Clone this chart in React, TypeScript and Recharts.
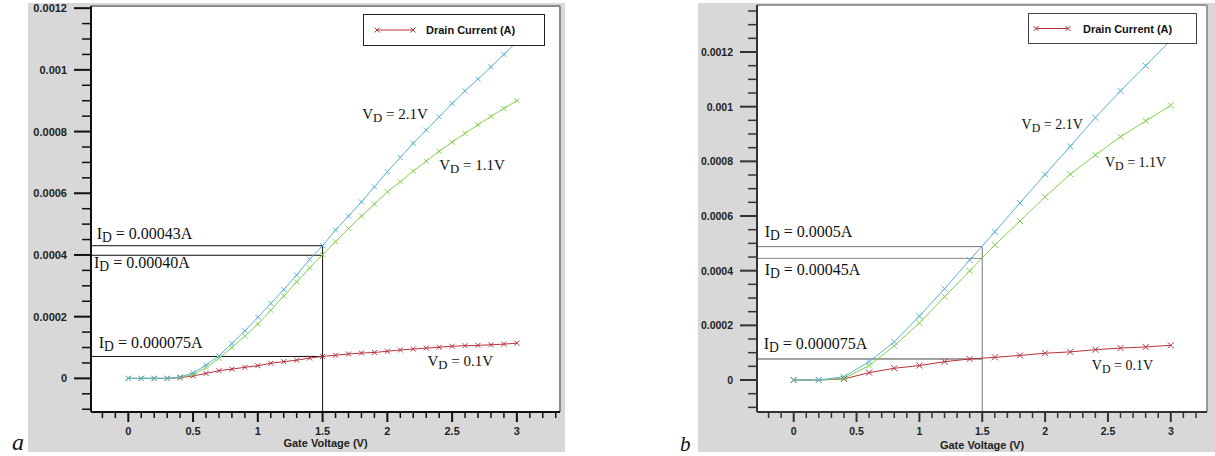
import React from 'react';
import { LineChart, Line, XAxis, YAxis, ReferenceLine, ReferenceDot, CartesianGrid, Legend } from 'recharts';

// ---------- DATA (chart a) ----------
const gateA = [0, 0.1, 0.2, 0.3, 0.4, 0.5, 0.6, 0.7, 0.8, 0.9, 1.0, 1.1, 1.2, 1.3, 1.4, 1.5, 1.6, 1.7, 1.8, 1.9, 2.0, 2.1, 2.2, 2.3, 2.4, 2.5, 2.6, 2.7, 2.8, 2.9, 3.0];
const vd21A = [0, 0, 0, 0, 0.000005, 0.000018, 0.000043, 0.000073, 0.000113, 0.000154, 0.000198, 0.000243, 0.000288, 0.000335, 0.000386, 0.00043, 0.000481, 0.000526, 0.000572, 0.000621, 0.00067, 0.000716, 0.000762, 0.000805, 0.000848, 0.000891, 0.000932, 0.00097, 0.00101, 0.00105, 0.001091];
const vd11A = [0, 0, 0, 0, 0.000003, 0.000012, 0.000035, 0.000065, 0.0001, 0.000137, 0.000176, 0.000221, 0.000267, 0.000313, 0.000358, 0.000401, 0.000443, 0.000486, 0.000526, 0.000565, 0.000605, 0.000637, 0.000672, 0.000704, 0.000736, 0.000766, 0.000794, 0.000822, 0.000849, 0.000875, 0.0009];
const vd01A = [0, 0, 0, 0, 0.000002, 0.000008, 0.000016, 0.000025, 0.00003, 0.000036, 0.000041, 0.000049, 0.000054, 0.000059, 0.000066, 0.000071, 0.000075, 0.000079, 0.000082, 0.000084, 0.000088, 0.000092, 0.000095, 0.000098, 0.000101, 0.000104, 0.000106, 0.000107, 0.000109, 0.000111, 0.000114];
const refLevelsA = [0.00043, 0.000399, 0.000071];
const refGateA = 1.5;

// ---------- DATA (chart b) ----------
const gateB = [0, 0.2, 0.4, 0.6, 0.8, 1.0, 1.2, 1.4, 1.6, 1.8, 2.0, 2.2, 2.4, 2.6, 2.8, 3.0];
const vd21B = [0, 0, 0.000012, 0.000067, 0.00014, 0.000234, 0.000334, 0.000439, 0.000542, 0.000648, 0.000752, 0.000855, 0.00096, 0.001058, 0.00115, 0.001243];
const vd11B = [0, 0, 0.000006, 0.000053, 0.000125, 0.000209, 0.000305, 0.000399, 0.000494, 0.000582, 0.00067, 0.000753, 0.000823, 0.00089, 0.000948, 0.001005];
const vd01B = [0, 0, 0.000004, 0.000027, 0.000043, 0.000053, 0.000067, 0.000077, 0.000083, 0.00009, 0.000098, 0.000103, 0.000111, 0.000117, 0.000121, 0.000127];
const refLevelsB = [0.000488, 0.000445, 0.000077];
const refGateB = 1.5;

// ---------- TICKS ----------
const yMajorVals = [0, 0.0002, 0.0004, 0.0006, 0.0008, 0.001, 0.0012];
const yMajorLabels = ['0', '0.0002', '0.0004', '0.0006', '0.0008', '0.001', '0.0012'];
const yTicksA = [-0.0001, -0.00005, 0, 0.00005, 0.0001, 0.00015, 0.0002, 0.00025, 0.0003, 0.00035, 0.0004, 0.00045, 0.0005, 0.00055, 0.0006, 0.00065, 0.0007, 0.00075, 0.0008, 0.00085, 0.0009, 0.00095, 0.001, 0.00105, 0.0011, 0.00115, 0.0012];
const yTicksB = [-0.0001, -0.00005, 0, 0.00005, 0.0001, 0.00015, 0.0002, 0.00025, 0.0003, 0.00035, 0.0004, 0.00045, 0.0005, 0.00055, 0.0006, 0.00065, 0.0007, 0.00075, 0.0008, 0.00085, 0.0009, 0.00095, 0.001, 0.00105, 0.0011, 0.00115, 0.0012, 0.00125, 0.0013, 0.00135];
const xMajorVals = [0, 0.5, 1, 1.5, 2, 2.5, 3];
const xMajorLabels = ['0', '0.5', '1', '1.5', '2', '2.5', '3'];
const xTicksA = [-0.2, -0.1, 0, 0.1, 0.2, 0.3, 0.4, 0.5, 0.6, 0.7, 0.8, 0.9, 1, 1.1, 1.2, 1.3, 1.4, 1.5, 1.6, 1.7, 1.8, 1.9, 2, 2.1, 2.2, 2.3, 2.4, 2.5, 2.6, 2.7, 2.8, 2.9, 3, 3.1, 3.2, 3.3];
const xTicksB = [-0.2, -0.1, 0, 0.1, 0.2, 0.3, 0.4, 0.5, 0.6, 0.7, 0.8, 0.9, 1, 1.1, 1.2, 1.3, 1.4, 1.5, 1.6, 1.7, 1.8, 1.9, 2, 2.1, 2.2, 2.3, 2.4, 2.5, 2.6, 2.7, 2.8, 2.9, 3, 3.1, 3.2];

const legendLabel = 'Drain Current (A)';
const xAxisTitle = 'Gate Voltage (V)';

// annotation texts
const annTextA = [
  { main: 'I', sub: 'D', rest: ' = 0.00043A', x: -0.244, y: 0.000451 },
  { main: 'I', sub: 'D', rest: ' = 0.00040A', x: -0.265, y: 0.000357 },
  { main: 'I', sub: 'D', rest: ' = 0.000075A', x: -0.228, y: 0.0000972 },
  { main: 'V', sub: 'D', rest: ' = 2.1V', x: 1.806, y: 0.00084 },
  { main: 'V', sub: 'D', rest: ' = 1.1V', x: 2.4, y: 0.000675 },
  { main: 'V', sub: 'D', rest: ' = 0.1V', x: 2.31, y: 0.0000408 },
];
const annTextB = [
  { main: 'I', sub: 'D', rest: ' = 0.0005A', x: -0.231, y: 0.000524 },
  { main: 'I', sub: 'D', rest: ' = 0.00045A', x: -0.231, y: 0.000384 },
  { main: 'I', sub: 'D', rest: ' = 0.000075A', x: -0.239, y: 0.000113 },
  { main: 'V', sub: 'D', rest: ' = 2.1V', x: 1.813, y: 0.000917 },
  { main: 'V', sub: 'D', rest: ' = 1.1V', x: 2.476, y: 0.00078 },
  { main: 'V', sub: 'D', rest: ' = 0.1V', x: 2.372, y: 0.0000366 },
];

// ---------- STYLE ----------
const SANS = "'Liberation Sans', Arial, Helvetica, sans-serif";
const SERIF = "'Liberation Serif', 'Times New Roman', Times, serif";
const C21 = '#58b2d8';
const C11 = '#82d24e';
const C01 = '#b8323c';
const PANEL = '#d8d8d8';

const near = (a: number, b: number) => Math.abs(a - b) < 1e-9;

const Cross = ({ cx, cy, color, s }: any) => {
  if (cx == null || cy == null) return null;
  return (
    <path
      d={`M${cx - s},${cy - s}L${cx + s},${cy + s}M${cx - s},${cy + s}L${cx + s},${cy - s}`}
      stroke={color}
      strokeWidth={1}
      fill="none"
    />
  );
};

const LegendBox = ({ w, h, lineX1, lineX2, textX, border }: any) => (
  <div
    style={{
      width: w,
      height: h,
      boxSizing: 'border-box',
      border: `1px solid ${border}`,
      background: '#fff',
      position: 'relative',
    }}
  >
    <svg width={w} height={h} style={{ position: 'absolute', left: -1, top: -1 }}>
      <line x1={lineX1} x2={lineX2} y1={h / 2} y2={h / 2} stroke={C01} strokeWidth={1} />
      <Cross cx={lineX1} cy={h / 2} color={C01} s={2.5} />
      <Cross cx={lineX2} cy={h / 2} color={C01} s={2.5} />
      <text x={textX} y={h / 2 + 4} fontFamily={SANS} fontWeight="bold" fontSize={11} fill="#111">
        {legendLabel}
      </text>
    </svg>
  </div>
);

type Cfg = {
  width: number;
  height: number;
  margin: any;
  yAxisWidth: number;
  xAxisHeight: number;
  xDomain: [number, number];
  yDomain: [number, number];
  xTicks: number[];
  yTicks: number[];
  gate: number[];
  s21: number[];
  s11: number[];
  s01: number[];
  refLevels: number[];
  refGate: number;
  refColors: string[];
  ann: any[];
  annSizeI: number;
  annSizeV: number;
  crossSize: number;
  axisColor: string;
  borderColor: string;
  tickFont: number;
  titleOffset: number;
  legend: any;
};

function ChartPanel({ cfg }: { cfg: Cfg }) {
  const data = cfg.gate.map((g, i) => ({ vg: g, d21: cfg.s21[i], d11: cfg.s11[i], d01: cfg.s01[i] }));
  const [xmin, xmax] = cfg.xDomain;
  const [ymin, ymax] = cfg.yDomain;

  const yTick = (props: any) => {
    const { x, y, payload } = props;
    const v = payload.value;
    const idx = yMajorVals.findIndex((m) => near(m, v));
    const major = idx >= 0;
    const len = major ? 17 : 9;
    return (
      <g>
        <line x1={x - len} x2={x} y1={y} y2={y} stroke={cfg.axisColor} strokeWidth={major ? 2 : 1.5} />
        {major && (
          <text
            x={x - 24}
            y={y + 4}
            textAnchor="end"
            fontFamily={SANS}
            fontWeight="bold"
            fontSize={cfg.tickFont}
            fill="#222"
          >
            {yMajorLabels[idx]}
          </text>
        )}
      </g>
    );
  };

  const xTick = (props: any) => {
    const { x, y, payload } = props;
    const v = payload.value;
    const idx = xMajorVals.findIndex((m) => Math.abs(m - v) < 1e-6);
    const major = idx >= 0;
    const len = major ? 10 : 6;
    return (
      <g>
        <line x1={x} x2={x} y1={y} y2={y + len} stroke={cfg.axisColor} strokeWidth={major ? 2 : 1.5} />
        {major && (
          <text
            x={x}
            y={y + 23}
            textAnchor="middle"
            fontFamily={SANS}
            fontWeight="bold"
            fontSize={cfg.tickFont}
            fill="#222"
          >
            {xMajorLabels[idx]}
          </text>
        )}
      </g>
    );
  };

  const topLevel = Math.max(...cfg.refLevels);

  return (
    <LineChart width={cfg.width} height={cfg.height} data={data} margin={cfg.margin}>
      <CartesianGrid fill="#ffffff" horizontal={false} vertical={false} />
      <XAxis
        dataKey="vg"
        type="number"
        domain={cfg.xDomain}
        allowDataOverflow
        ticks={cfg.xTicks}
        interval={0}
        tick={xTick}
        tickLine={false}
        tickSize={0}
        tickMargin={0}
        height={cfg.xAxisHeight}
        axisLine={{ stroke: cfg.axisColor, strokeWidth: 2 }}
        label={{
          value: xAxisTitle,
          position: 'insideBottom',
          offset: cfg.titleOffset,
          style: { fontFamily: SANS, fontWeight: 'bold', fontSize: 11, fill: '#222' },
        }}
      />
      <YAxis
        type="number"
        domain={cfg.yDomain}
        allowDataOverflow
        ticks={cfg.yTicks}
        interval={0}
        tick={yTick}
        tickLine={false}
        tickSize={0}
        tickMargin={0}
        width={cfg.yAxisWidth}
        axisLine={{ stroke: cfg.axisColor, strokeWidth: 2 }}
      />
      <ReferenceLine y={ymax} stroke={cfg.borderColor} strokeWidth={2} ifOverflow="visible" />
      <ReferenceLine x={xmax} stroke={cfg.borderColor} strokeWidth={2} ifOverflow="visible" />
      {cfg.refLevels.map((lv, i) => (
        <ReferenceLine
          key={`h${i}`}
          segment={[
            { x: xmin, y: lv },
            { x: cfg.refGate, y: lv },
          ]}
          stroke={cfg.refColors[i]}
          strokeWidth={1}
          ifOverflow="visible"
        />
      ))}
      <ReferenceLine
        segment={[
          { x: cfg.refGate, y: ymin },
          { x: cfg.refGate, y: topLevel },
        ]}
        stroke={cfg.refColors[0]}
        strokeWidth={1}
        ifOverflow="visible"
      />
      <Line
        dataKey="d01"
        stroke={C01}
        strokeWidth={1}
        isAnimationActive={false}
        dot={(p: any) => <Cross key={`r${p.index}`} cx={p.cx} cy={p.cy} color={C01} s={cfg.crossSize} />}
        activeDot={false}
      />
      <Line
        dataKey="d11"
        stroke={C11}
        strokeWidth={1}
        isAnimationActive={false}
        dot={(p: any) => <Cross key={`g${p.index}`} cx={p.cx} cy={p.cy} color={C11} s={cfg.crossSize} />}
        activeDot={false}
      />
      <Line
        dataKey="d21"
        stroke={C21}
        strokeWidth={1}
        isAnimationActive={false}
        dot={(p: any) => <Cross key={`c${p.index}`} cx={p.cx} cy={p.cy} color={C21} s={cfg.crossSize} />}
        activeDot={false}
      />
      {cfg.ann.map((a, i) => {
        const size = a.main === 'I' ? cfg.annSizeI : cfg.annSizeV;
        return (
          <ReferenceDot
            key={`a${i}`}
            x={a.x}
            y={a.y}
            r={0}
            ifOverflow="visible"
            shape={(p: any) => (
              <text x={p.cx} y={p.cy} fontFamily={SERIF} fontSize={size} fill="#111">
                {a.main}
                <tspan fontSize={size * 0.85} dy={3}>
                  {a.sub}
                </tspan>
                <tspan dy={-3}>{a.rest}</tspan>
              </text>
            )}
          />
        );
      })}
      <Legend
        verticalAlign="middle"
        layout="horizontal"
        align="center"
        wrapperStyle={{ left: cfg.legend.left, top: cfg.legend.top, width: cfg.legend.w, height: cfg.legend.h }}
        content={() => (
          <LegendBox
            w={cfg.legend.w}
            h={cfg.legend.h}
            lineX1={cfg.legend.lineX1}
            lineX2={cfg.legend.lineX2}
            textX={cfg.legend.textX}
            border={cfg.legend.border}
          />
        )}
      />
    </LineChart>
  );
}

const cfgA: Cfg = {
  width: 537,
  height: 449,
  margin: { top: 3, right: 5, bottom: 0, left: 0 },
  yAxisWidth: 63,
  xAxisHeight: 40,
  xDomain: [-0.288, 3.333],
  yDomain: [-0.000109, 0.001207],
  xTicks: xTicksA,
  yTicks: yTicksA,
  gate: gateA,
  s21: vd21A,
  s11: vd11A,
  s01: vd01A,
  refLevels: refLevelsA,
  refGate: refGateA,
  refColors: ['#111', '#111', '#111'],
  ann: annTextA,
  annSizeI: 16,
  annSizeV: 15,
  crossSize: 2.5,
  axisColor: '#111',
  borderColor: '#8a8a8a',
  tickFont: 11,
  titleOffset: 5,
  legend: { left: 335, top: 11, w: 182, h: 32, lineX1: 14, lineX2: 50, textX: 63, border: '#222' },
};

const cfgB: Cfg = {
  width: 517,
  height: 449,
  margin: { top: 2, right: 8, bottom: 0, left: 0 },
  yAxisWidth: 59,
  xAxisHeight: 40,
  xDomain: [-0.292, 3.288],
  yDomain: [-0.000117, 0.001372],
  xTicks: xTicksB,
  yTicks: yTicksB,
  gate: gateB,
  s21: vd21B,
  s11: vd11B,
  s01: vd01B,
  refLevels: refLevelsB,
  refGate: refGateB,
  refColors: ['#777', '#888', '#444'],
  ann: annTextB,
  annSizeI: 16,
  annSizeV: 14,
  crossSize: 3,
  axisColor: '#333',
  borderColor: '#999',
  tickFont: 10.5,
  titleOffset: 3,
  legend: { left: 330, top: 10, w: 169, h: 31, lineX1: 8, lineX2: 40, textX: 55, border: '#444' },
};

export default function App() {
  return (
    <div style={{ position: 'absolute', left: 0, top: 0, width: 1215, height: 456, background: '#fff', overflow: 'hidden' }}>
      <svg width={1215} height={456} style={{ position: 'absolute', left: 0, top: 0 }}>
        <text x={12} y={450} fontFamily={SERIF} fontStyle="italic" fontSize={24} fill="#111">
          a
        </text>
        <text x={680} y={451} fontFamily={SERIF} fontStyle="italic" fontSize={21} fill="#111">
          b
        </text>
      </svg>
      <div style={{ position: 'absolute', left: 28, top: 3, width: 537, height: 449, background: PANEL }}>
        <ChartPanel cfg={cfgA} />
      </div>
      <div style={{ position: 'absolute', left: 698, top: 3, width: 517, height: 449, background: PANEL }}>
        <ChartPanel cfg={cfgB} />
      </div>
    </div>
  );
}
